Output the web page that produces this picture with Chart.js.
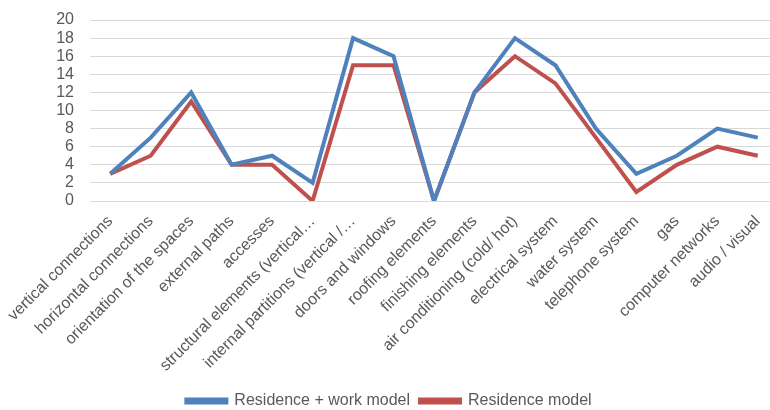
<!DOCTYPE html>
<html>
<head>
<meta charset="utf-8">
<script src="https://cdn.jsdelivr.net/npm/chart.js@4"></script>
<style>
  html, body { margin: 0; padding: 0; background: #fff; overflow: hidden; }
  #wrap { width: 778px; height: 410px; }
</style>
</head>
<body>
<div id="wrap"><canvas id="chart"></canvas></div>
<script>
var categories = [
  "vertical connections", "horizontal connections", "orientation of the spaces",
  "external paths", "accesses", "structural elements (vertical\u2026",
  "internal partitions (vertical /\u2026", "doors and windows", "roofing elements",
  "finishing elements", "air conditioning (cold/ hot)", "electrical system",
  "water system", "telephone system", "gas", "computer networks", "audio / visual"
];
var workModel = [3, 7, 12, 4, 5, 2, 18, 16, 0, 12, 18, 15, 8, 3, 5, 8, 7];
var residenceModel = [3, 5, 11, 4, 4, 0, 15, 15, 0, 12, 16, 13, 7, 1, 4, 6, 5];
var yTicks = [0, 2, 4, 6, 8, 10, 12, 14, 16, 18, 20];

var txt = "#595959";
var fam = "'Liberation Sans', Arial, sans-serif";

new Chart(document.getElementById("chart"), {
  type: "line",
  data: {
    labels: categories,
    datasets: [{
      label: "Residence + work model",
      data: workModel,
      borderColor: "#4f81bd",
      backgroundColor: "#4f81bd",
      borderWidth: 4,
      pointRadius: 0,
      tension: 0
    }, {
      label: "Residence model",
      data: residenceModel,
      borderColor: "#c0504d",
      backgroundColor: "#c0504d",
      borderWidth: 4,
      pointRadius: 0,
      tension: 0
    }]
  },
  options: {
    responsive: true,
    maintainAspectRatio: false,
    animation: false,
    layout: { padding: { top: 20, bottom: -9, left: 0, right: 0 } },
    plugins: {
      tooltip: { enabled: false },
      legend: {
        position: "bottom",
        labels: {
          boxWidth: 40,
          boxHeight: 3,
          padding: 10,
          color: txt,
          font: { family: fam, size: 16 }
        }
      }
    },
    scales: {
      x: {
        offset: true,
        afterFit: function(s) { s.height = 182; },
        grid: { display: false },
        border: { display: false },
        ticks: {
          color: txt,
          minRotation: 45,
          maxRotation: 45,
          autoSkip: false,
          font: { family: fam, size: 16 }
        }
      },
      y: {
        min: 0,
        max: 20,
        afterFit: function(s) { s.width = 90; s.paddingTop = 0; },
        afterBuildTicks: function(s) { s.ticks = yTicks.map(function(v){ return { value: v }; }); },
        grid: { color: "#d9d9d9", lineWidth: 1, drawTicks: false },
        border: { display: false },
        ticks: {
          color: txt,
          autoSkip: false,
          padding: 16,
          font: { family: fam, size: 16 }
        }
      }
    }
  }
});
</script>
</body>
</html>
